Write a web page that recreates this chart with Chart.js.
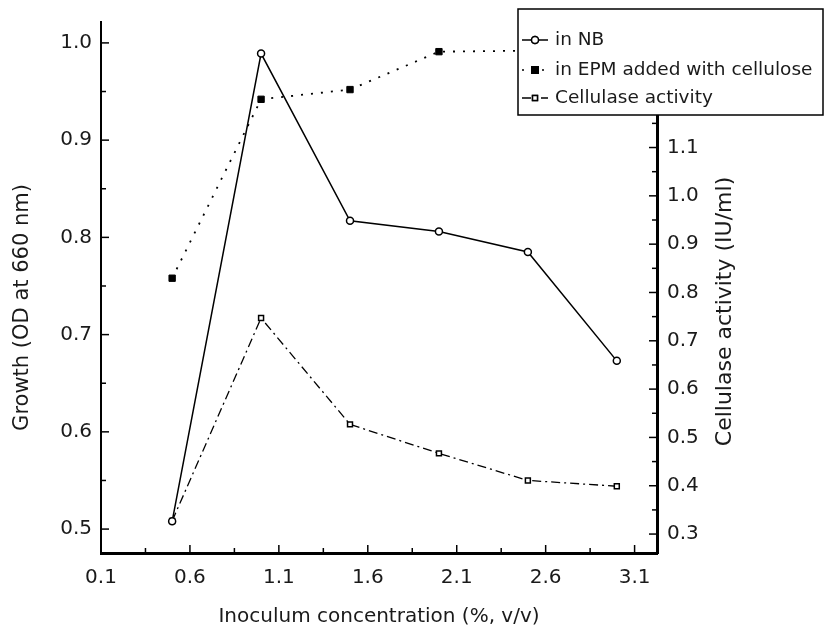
<!DOCTYPE html>
<html>
<head>
<meta charset="utf-8">
<script src="https://cdn.jsdelivr.net/npm/chart.js@4/dist/chart.umd.min.js"></script>
<style>
  html, body { margin: 0; padding: 0; background: #fff; }
  #wrap { width: 825px; height: 634px; }
</style>
</head>
<body>
<div id="wrap"><canvas id="chart" width="825" height="634"></canvas></div>
<script>
const concentration = [0.5, 1.0, 1.5, 2.0, 2.5, 3.0];
const growthNB = [0.508, 0.989, 0.817, 0.806, 0.785, 0.673];
const growthEPM = [0.758, 0.942, 0.952, 0.991, 0.992, 0.995];
const cellulaseActivity = [0.327, 0.747, 0.527, 0.467, 0.411, 0.399];

const xTicks = [0.1, 0.6, 1.1, 1.6, 2.1, 2.6, 3.1];
const growthTicks = [0.5, 0.6, 0.7, 0.8, 0.9, 1.0];
const activityTicks = [0.3, 0.4, 0.5, 0.6, 0.7, 0.8, 0.9, 1.0, 1.1];

const FONT = "'DejaVu Sans', sans-serif";
const INK = "#1a1a1a";

const toPoints = (ys) => concentration.map((x, i) => ({ x: x, y: ys[i] }));

// minor ticks sit halfway between majors (plus one half step past the last, if it fits)
const minorsOf = (majors, min, max) => {
  const out = [];
  const step = majors[1] - majors[0];
  for (let i = 0; i < majors.length - 1; i++) out.push((majors[i] + majors[i + 1]) / 2);
  const after = majors[majors.length - 1] + step / 2;
  const before = majors[0] - step / 2;
  if (after <= max) out.push(after);
  if (before >= min) out.push(before);
  return out;
};

const fixTicks = (arr) => (scale) => {
  scale.ticks = arr.map((v) => ({ value: v }));
};

const decor = {
  id: "decor",
  afterDraw(chart) {
    const ctx = chart.ctx;
    const area = chart.chartArea;
    const { x, y, y1 } = chart.scales;
    ctx.save();

    // inward tick marks
    ctx.strokeStyle = "#000";
    ctx.lineWidth = 1.5;
    const vTicks = (scale, majors, edge, dir) => {
      const draw = (v, len) => {
        const p = scale.getPixelForValue(v);
        ctx.beginPath();
        ctx.moveTo(edge, p);
        ctx.lineTo(edge + dir * len, p);
        ctx.stroke();
      };
      majors.forEach((v) => draw(v, 8));
      minorsOf(majors, scale.min, scale.max).forEach((v) => draw(v, 5));
    };
    vTicks(y, growthTicks, area.left, 1);
    vTicks(y1, activityTicks, area.right, -1);
    const drawX = (v, len) => {
      const p = x.getPixelForValue(v);
      ctx.beginPath();
      ctx.moveTo(p, area.bottom);
      ctx.lineTo(p, area.bottom - len);
      ctx.stroke();
    };
    xTicks.forEach((v) => drawX(v, 8));
    minorsOf(xTicks, x.min, x.max).forEach((v) => drawX(v, 5));

    // axis titles
    ctx.fillStyle = INK;
    ctx.textAlign = "center";
    ctx.textBaseline = "middle";
    ctx.font = "21px " + FONT;
    ctx.save();
    ctx.translate(23, (area.top + area.bottom) / 2 + 20);
    ctx.rotate(-Math.PI / 2);
    ctx.fillText("Growth (OD at 660 nm)", 0, 0);
    ctx.restore();
    ctx.save();
    ctx.font = "22px " + FONT;
    ctx.translate(725, (area.top + area.bottom) / 2 + 24);
    ctx.rotate(-Math.PI / 2);
    ctx.fillText("Cellulase activity (IU/ml)", 0, 0);
    ctx.restore();
    ctx.font = "20px " + FONT;
    ctx.fillText("Inoculum concentration (%, v/v)", (area.left + area.right) / 2, 617);

    // legend box laid over the plot, as in the figure
    const bx = 518, by = 9, bw = 305, bh = 106;
    ctx.fillStyle = "#fff";
    ctx.fillRect(bx, by, bw, bh);
    ctx.strokeStyle = "#000";
    ctx.lineWidth = 1.5;
    ctx.strokeRect(bx, by, bw, bh);
    const rows = [40, 70, 98];
    chart.data.datasets.forEach((ds, i) => {
      const ry = rows[i];
      ctx.strokeStyle = "#000";
      ctx.lineWidth = 1.5;
      ctx.setLineDash(ds.borderDash || []);
      ctx.beginPath();
      ctx.moveTo(bx + 4, ry);
      ctx.lineTo(bx + 30, ry);
      ctx.stroke();
      ctx.setLineDash([]);
      Chart.helpers.drawPoint(ctx, {
        pointStyle: ds.pointStyle,
        radius: ds.pointRadius,
        borderWidth: 1.5
      }, bx + 17, ry);
      ctx.fillStyle = ds.pointBackgroundColor;
      ctx.fill();
      ctx.stroke();
      ctx.fillStyle = INK;
      ctx.font = "18.5px " + FONT;
      ctx.textAlign = "left";
      ctx.fillText(ds.label, bx + 37, ry);
    });
    ctx.restore();
  }
};

new Chart(document.getElementById("chart"), {
  type: "line",
  data: {
    datasets: [
      {
        label: "in NB",
        data: toPoints(growthNB),
        yAxisID: "y",
        borderColor: "#000",
        borderWidth: 1.5,
        pointStyle: "circle",
        pointRadius: 3.5,
        pointBorderWidth: 1.5,
        pointBorderColor: "#000",
        pointBackgroundColor: "#fff"
      },
      {
        label: "in EPM added with cellulose",
        data: toPoints(growthEPM),
        yAxisID: "y",
        borderColor: "#000",
        borderWidth: 1.8,
        borderDash: [2, 8],
        pointStyle: "rect",
        pointRadius: 4.5,
        pointBorderWidth: 1,
        pointBorderColor: "#000",
        pointBackgroundColor: "#000"
      },
      {
        label: "Cellulase activity",
        data: toPoints(cellulaseActivity),
        yAxisID: "y1",
        borderColor: "#000",
        borderWidth: 1.3,
        borderDash: [9, 4, 2, 4],
        pointStyle: "rect",
        pointRadius: 3.5,
        pointBorderWidth: 1.5,
        pointBorderColor: "#000",
        pointBackgroundColor: "#fff"
      }
    ]
  },
  options: {
    responsive: false,
    animation: false,
    layout: { padding: { top: 20, left: 0, right: 0, bottom: 0 } },
    plugins: {
      legend: { display: false },
      tooltip: { enabled: false }
    },
    scales: {
      x: {
        type: "linear",
        min: 0.1,
        max: 3.226,
        afterBuildTicks: fixTicks(xTicks),
        afterFit: (s) => { s.height = 81; },
        grid: { display: false, drawTicks: false },
        border: { display: true, color: "#000", width: 3 },
        ticks: {
          padding: 13,
          color: INK,
          font: { family: FONT, size: 20 },
          callback: (v) => v.toFixed(1)
        }
      },
      y: {
        position: "left",
        min: 0.4754,
        max: 1.0215,
        afterBuildTicks: fixTicks(growthTicks),
        afterFit: (s) => { s.width = 101; },
        grid: { display: false, drawTicks: false },
        border: { display: true, color: "#000", width: 2 },
        ticks: {
          padding: 9,
          color: INK,
          font: { family: FONT, size: 20 },
          callback: (v) => v.toFixed(1)
        }
      },
      y1: {
        position: "right",
        min: 0.2608,
        max: 1.3598,
        afterBuildTicks: fixTicks(activityTicks),
        afterFit: (s) => { s.width = 168; },
        grid: { display: false, drawTicks: false },
        border: { display: true, color: "#000", width: 3 },
        ticks: {
          padding: 10,
          color: INK,
          font: { family: FONT, size: 20 },
          callback: (v) => v.toFixed(1)
        }
      }
    }
  },
  plugins: [decor]
});
</script>
</body>
</html>
